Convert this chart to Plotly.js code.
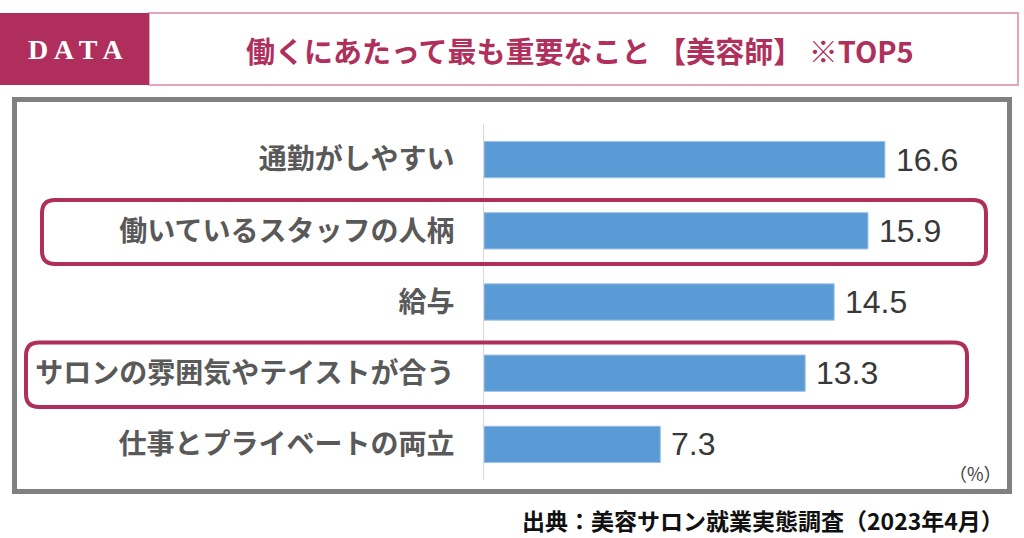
<!DOCTYPE html>
<html><head><meta charset="utf-8">
<script src="https://cdn.plot.ly/plotly-3.0.1.min.js"></script>
<style>html,body{margin:0;padding:0;background:#fff}#chart{width:1024px;height:538px}</style>
</head><body><div id="chart"></div>
<script>
const categories = ["通勤がしやすい","働いているスタッフの人柄","給与","サロンの雰囲気やテイストが合う","仕事とプライベートの両立"];
const values = [16.6, 15.9, 14.5, 13.3, 7.3];
const titleText = "働くにあたって最も重要なこと 【美容師】 ※TOP5";
const headerTag = "D A T A";
const unitText = "（%）";
const sourceText = "出典：美容サロン就業実態調査（2023年4月）";

const W = 1024, H = 538;
const px = x => x / W, py = y => 1 - y / H;
const JP = '"Noto Sans CJK JP", "Noto Sans", sans-serif';
const MAG = '#AF2E5B';

function roundRect(x0, y0, x1, y1, r) {
  const p = (x, y) => px(x) + ',' + py(y);
  return 'M' + p(x0 + r, y0) + ' L' + p(x1 - r, y0) + ' Q' + p(x1, y0) + ' ' + p(x1, y0 + r) +
    ' L' + p(x1, y1 - r) + ' Q' + p(x1, y1) + ' ' + p(x1 - r, y1) +
    ' L' + p(x0 + r, y1) + ' Q' + p(x0, y1) + ' ' + p(x0, y1 - r) +
    ' L' + p(x0, y0 + r) + ' Q' + p(x0, y0) + ' ' + p(x0 + r, y0) + ' Z';
}

const trace = {
  type: 'bar', orientation: 'h',
  x: values, y: categories,
  marker: {color: '#5B9BD5', line: {color: '#9DC3E6', width: 1}},
  width: 0.51,
  hoverinfo: 'none'
};

const valueAnnotations = values.map((v, i) => ({
  x: v, y: categories[i], xref: 'x', yref: 'y',
  text: v.toFixed(1), showarrow: false, xanchor: 'left', xshift: 9,
  font: {family: '"Liberation Sans", Arial, sans-serif', size: 32, color: '#383838'}
}));

const hlRects = [[42, 200, 986, 264], [26, 342.5, 967, 407]];

const layout = {
  width: W, height: H,
  margin: {l: 0, r: 0, t: 0, b: 0},
  paper_bgcolor: '#fff', plot_bgcolor: 'rgba(0,0,0,0)',
  showlegend: false,
  xaxis: {domain: [px(484), px(1000)], range: [0, 516 / 24.15], visible: false, fixedrange: true},
  yaxis: {
    domain: [py(480), py(124)], autorange: 'reversed', type: 'category',
    showline: true, linecolor: '#D9D9D9', linewidth: 1, showgrid: false, zeroline: false,
    ticks: '', ticklabelstandoff: 23,
    tickfont: {family: JP, size: 28, color: '#595959', weight: 'bold'}, fixedrange: true
  },
  shapes: [
    {type: 'rect', xref: 'paper', yref: 'paper', x0: px(149), x1: px(1018), y0: py(85), y1: py(13),
      line: {color: '#E3A5BC', width: 2}, fillcolor: '#fff', layer: 'below'},
    {type: 'rect', xref: 'paper', yref: 'paper', x0: px(0), x1: px(149), y0: py(85), y1: py(13),
      line: {width: 0}, fillcolor: MAG, layer: 'below'},
    {type: 'rect', xref: 'paper', yref: 'paper', x0: px(14.5), x1: px(1009.5), y0: py(491.5), y1: py(99.5),
      line: {color: '#808080', width: 5}, fillcolor: 'rgba(0,0,0,0)', layer: 'below'},
    ...hlRects.map(r => ({type: 'path', xref: 'paper', yref: 'paper', path: roundRect(r[0], r[1], r[2], r[3], 13),
      line: {color: MAG, width: 4}, layer: 'above'}))
  ],
  annotations: [
    {xref: 'paper', yref: 'paper', x: px(75), y: py(50), text: '<b>' + headerTag + '</b>', showarrow: false,
      xanchor: 'center', yanchor: 'middle',
      font: {family: '"Liberation Serif", "DejaVu Serif", serif', size: 28, color: '#fff'}},
    {xref: 'paper', yref: 'paper', x: px(580), y: py(50), text: titleText, showarrow: false,
      xanchor: 'center', yanchor: 'middle',
      font: {family: JP, size: 29, color: '#B0305C', weight: 'bold'}},
    {xref: 'paper', yref: 'paper', x: px(1004), y: py(473), text: unitText, showarrow: false,
      xanchor: 'right', yanchor: 'middle',
      font: {family: JP, size: 18, color: '#404040'}},
    {xref: 'paper', yref: 'paper', x: px(1006), y: py(520), text: sourceText, showarrow: false,
      xanchor: 'right', yanchor: 'middle',
      font: {family: JP, size: 23, color: '#111', weight: 'bold'}},
    ...valueAnnotations
  ]
};

Plotly.newPlot('chart', [trace], layout, {staticPlot: true, displayModeBar: false});
</script></body></html>
